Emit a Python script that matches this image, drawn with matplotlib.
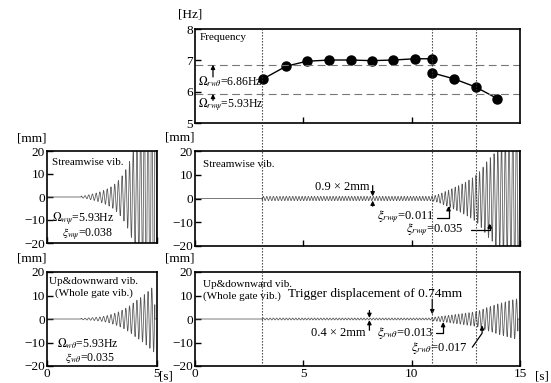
import numpy as np
import matplotlib
matplotlib.use('Agg')
import matplotlib.pyplot as plt
from matplotlib.lines import Line2D

plt.rcParams['font.family'] = ['Liberation Serif', 'DejaVu Serif']
plt.rcParams['mathtext.fontset'] = 'stix'
plt.rcParams['axes.linewidth'] = 1.2

# ---- frequency panel data ----
freq_t1 = [3.15, 4.2, 5.15, 6.2, 7.2, 8.15, 9.15, 10.15, 10.95]
freq_v1 = [6.41, 6.81, 6.97, 7.01, 7.01, 6.99, 7.01, 7.05, 7.05]
freq_t2 = [10.95, 11.95, 12.95, 13.95]
freq_v2 = [6.60, 6.41, 6.15, 5.78]
omega_rw_theta = 6.86
omega_rw_psi = 5.93
event_times = [3.1, 10.95, 12.95]

# ---- vibration envelopes (amplitude in mm vs time in s) ----
left_freq = 5.93
ls_env_t = [1.55, 2.0, 2.5, 3.0, 3.5, 3.95, 5.0]
ls_env_a = [0.4, 1.2, 2.6, 5.0, 10.5, 21.0, 80.0]
lu_env_t = [1.55, 2.5, 3.0, 3.5, 4.0, 4.5, 4.9]
lu_env_a = [0.3, 1.0, 2.2, 4.2, 7.5, 11.0, 14.5]
rs_env_t = [3.1, 10.9, 10.95, 11.5, 12.0, 12.5, 13.0, 13.5, 14.0, 15.0]
rs_env_a = [0.9, 0.9, 1.0, 2.8, 4.8, 7.0, 10.0, 16.0, 21.0, 40.0]
ru_env_t = [3.1, 10.9, 10.95, 11.5, 12.0, 12.5, 13.0, 13.5, 14.0, 14.5, 14.9]
ru_env_a = [0.4, 0.4, 0.74, 1.3, 1.9, 2.5, 3.2, 5.0, 6.5, 7.8, 8.7]


def wave(t_end, env_t, env_a, freq_fn):
    t = np.arange(0, t_end, 0.002)
    f = freq_fn(t)
    phase = 2 * np.pi * np.cumsum(f) * 0.002
    env = np.exp(np.interp(t, env_t, np.log(env_a)))
    env[(t < env_t[0]) | (t > env_t[-1])] = 0.0
    return t, env * np.sin(phase)


def right_freq(t):
    return np.where(t <= 10.95, np.interp(t, freq_t1, freq_v1),
                    np.interp(t, freq_t2, freq_v2))


W, H = 551, 383
fig = plt.figure(figsize=(W / 100, H / 100), dpi=100)


def box(l, t, r, b):
    return [l / W, 1 - b / H, (r - l) / W, (b - t) / H]


ax_f = fig.add_axes(box(195, 29, 520, 123))
ax_rs = fig.add_axes(box(195, 151, 520, 246))
ax_ru = fig.add_axes(box(195, 272, 520, 366))
ax_ls = fig.add_axes(box(47, 151, 157, 243))
ax_lu = fig.add_axes(box(47, 272, 157, 366))

fs_tick = 9.5
for ax in [ax_f, ax_rs, ax_ru, ax_ls, ax_lu]:
    ax.tick_params(direction='in', length=4, width=1.0, labelsize=fs_tick, pad=1.5)

arr = dict(arrowstyle='-|>', color='k', lw=0.9, mutation_scale=6, shrinkA=0, shrinkB=0)
bent = dict(arr, connectionstyle='angle,angleA=0,angleB=90,rad=0')

# frequency panel
ax_f.plot(freq_t1, freq_v1, 'k-o', ms=6.5, lw=1.0)
ax_f.plot(freq_t2, freq_v2, 'k-o', ms=6.5, lw=1.0)
for v in [omega_rw_theta, omega_rw_psi]:
    ax_f.axhline(v, color='#777777', lw=0.8, dashes=(7, 4))
ax_f.set_xlim(0, 15)
ax_f.set_ylim(5, 8)
ax_f.set_xticks([5, 10])
ax_f.set_xticklabels([])
ax_f.set_yticks([5, 6, 7, 8])
ax_f.text(0.2, 7.72, 'Frequency', fontsize=8, va='center')
ax_f.text(0.15, 6.33, r'$\Omega_{rw\theta}$=6.86Hz', fontsize=8.5, va='center')
ax_f.text(0.15, 5.57, r'$\Omega_{rw\psi}$=5.93Hz', fontsize=8.5, va='center')
ax_f.annotate('', xy=(0.83, 6.86), xytext=(0.83, 6.47), arrowprops=arr)
ax_f.annotate('', xy=(0.83, 5.93), xytext=(0.83, 5.72), arrowprops=arr)
ax_f.text(-0.015, 1.15, '[Hz]', transform=ax_f.transAxes, ha='center', va='center',
          fontsize=fs_tick)

# vibration panels
t, y = wave(15, rs_env_t, rs_env_a, right_freq)
ax_rs.plot(t, y, color='#555555', lw=0.55)
t, y = wave(15, ru_env_t, ru_env_a, right_freq)
ax_ru.plot(t, y, color='#555555', lw=0.55)
t, y = wave(5, ls_env_t, ls_env_a, lambda tt: np.full_like(tt, left_freq))
ax_ls.plot(t, y, color='#555555', lw=0.55)
t, y = wave(5, lu_env_t, lu_env_a, lambda tt: np.full_like(tt, left_freq))
ax_lu.plot(t, y, color='#555555', lw=0.55)

for ax in [ax_rs, ax_ru]:
    ax.set_xlim(0, 15)
    ax.set_xticks([0, 5, 10, 15])
for ax in [ax_ls, ax_lu]:
    ax.set_xlim(0, 5)
    ax.set_xticks([0, 5])
for ax in [ax_rs, ax_ru, ax_ls, ax_lu]:
    ax.set_ylim(-20, 20)
    ax.set_yticks([-20, -10, 0, 10, 20])
    ax.set_yticklabels(['\u221220', '\u221210', '0', '10', '20'])
    ax.text(0.0, 1.14, '[mm]', transform=ax.transAxes, ha='right', va='center',
            fontsize=fs_tick)
ax_rs.set_xticklabels([])
ax_ls.set_xticklabels([])
ax_ru.set_xticklabels(['0', '5', '10', '15'])
ax_lu.set_xticklabels(['0', '5'])
ax_ru.text(1.045, -0.045, '[s]', transform=ax_ru.transAxes, ha='left', va='top',
           fontsize=fs_tick)
ax_lu.text(1.02, -0.045, '[s]', transform=ax_lu.transAxes, ha='left', va='top',
           fontsize=fs_tick)

# left streamwise
ax_ls.text(0.25, 15, 'Streamwise vib.', fontsize=8, va='center')
ax_ls.text(0.25, -9.6, r'$\Omega_{w\psi}$=5.93Hz', fontsize=8.5, va='center')
ax_ls.text(0.7, -16.3, r'$\xi_{w\psi}$=0.038', fontsize=8.5, va='center')
# left up&down
ax_lu.text(0.1, 16.0, 'Up&downward vib.', fontsize=8, va='center')
ax_lu.text(0.35, 11.0, '(Whole gate vib.)', fontsize=8, va='center')
ax_lu.text(0.45, -10.4, r'$\Omega_{w\theta}$=5.93Hz', fontsize=8.5, va='center')
ax_lu.text(0.8, -16.4, r'$\xi_{w\theta}$=0.035', fontsize=8.5, va='center')

# right streamwise
ax_rs.text(0.35, 14.4, 'Streamwise vib.', fontsize=8, va='center')
ax_rs.text(8.05, 4.8, '0.9 \u00d7 2mm', fontsize=9, ha='right', va='center')
ax_rs.annotate('', xy=(8.2, 0.9), xytext=(8.2, 5.4), arrowprops=arr)
ax_rs.annotate('', xy=(8.2, -0.9), xytext=(8.2, -3.2), arrowprops=arr)
ax_rs.text(8.4, -7.5, r'$\xi_{rw\psi}$=0.011', fontsize=9, va='center')
ax_rs.annotate('', xy=(11.7, -3.2), xytext=(11.15, -8.0), arrowprops=bent)
ax_rs.text(9.75, -13.2, r'$\xi_{rw\psi}$=0.035', fontsize=9, va='center')
ax_rs.annotate('', xy=(13.6, -10.5), xytext=(12.75, -13.2), arrowprops=bent)

# right up&down
ax_ru.text(0.35, 14.5, 'Up&downward vib.', fontsize=8, va='center')
ax_ru.text(0.35, 9.8, '(Whole gate vib.)', fontsize=8, va='center')
ax_ru.text(4.3, 10.7, 'Trigger displacement of 0.74mm', fontsize=9.5, va='center')
ax_ru.annotate('', xy=(10.95, 2.0), xytext=(10.95, 8.4), arrowprops=arr)
ax_ru.text(7.85, -6.0, '0.4 \u00d7 2mm', fontsize=9, ha='right', va='center')
ax_ru.annotate('', xy=(8.05, 0.45), xytext=(8.05, 3.6), arrowprops=arr)
ax_ru.annotate('', xy=(8.05, -0.45), xytext=(8.05, -4.8), arrowprops=arr)
ax_ru.text(8.4, -6.0, r'$\xi_{rw\theta}$=0.013', fontsize=9, va='center')
ax_ru.annotate('', xy=(11.45, -1.3), xytext=(11.1, -5.8), arrowprops=bent)
ax_ru.text(9.95, -12.3, r'$\xi_{rw\theta}$=0.017', fontsize=9, va='center')
ax_ru.annotate('', xy=(13.25, -2.7), xytext=(12.8, -12.0),
               arrowprops=dict(arr, connectionstyle='angle,angleA=55,angleB=90,rad=0'))

# dotted event lines across the right-hand panels
fig.canvas.draw()
top_y = ax_f.get_position().y1
bot_y = ax_ru.get_position().y0
for te in event_times:
    xd = ax_f.transData.transform((te, 5))
    xf = fig.transFigure.inverted().transform(xd)[0]
    fig.add_artist(Line2D([xf, xf], [bot_y, top_y], color='#333333', lw=0.8,
                          ls=(0, (1.2, 1.5)), zorder=5))

fig.savefig('out.png', dpi=100)
